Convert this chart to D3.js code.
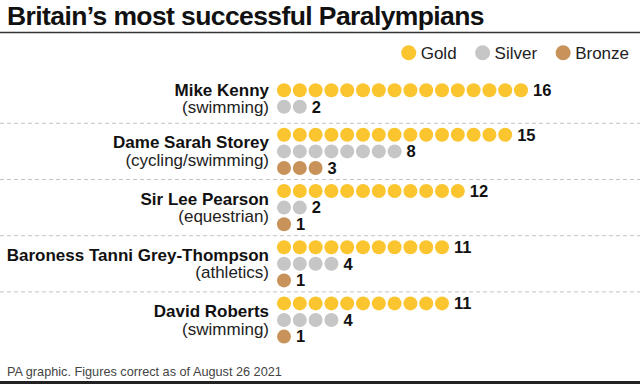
<!DOCTYPE html>
<html>
<head>
<meta charset="utf-8">
<script src="https://cdn.jsdelivr.net/npm/d3@7"></script>
<style>
  html, body { margin: 0; padding: 0; background: #fff; }
  svg { display: block; font-family: "Liberation Sans", Arial, sans-serif; }
</style>
</head>
<body>
<svg id="chart" width="640" height="384"></svg>
<script>
// ---- data ----
const athletes = ["Mike Kenny", "Dame Sarah Storey", "Sir Lee Pearson", "Baroness Tanni Grey-Thompson", "David Roberts"];
const sports = ["(swimming)", "(cycling/swimming)", "(equestrian)", "(athletics)", "(swimming)"];
const gold = [16, 15, 12, 11, 11];
const silver = [2, 8, 2, 4, 4];
const bronze = [0, 3, 1, 1, 1];
const medalTypes = ["Gold", "Silver", "Bronze"];
const title = "Britain’s most successful Paralympians";
const footer = "PA graphic. Figures correct as of August 26 2021";

// ---- styles ----
const colors = { Gold: "#fbc52f", Silver: "#c6c6c6", Bronze: "#c8925b" };
const W = 640, H = 384;
const svg = d3.select("#chart");

// title + rule
svg.append("text").attr("x", 7).attr("y", 25)
  .attr("font-size", 26.5).attr("font-weight", "bold").attr("letter-spacing", -0.6)
  .attr("fill", "#111").text(title);
svg.append("line").attr("x1", 0).attr("x2", W).attr("y1", 32.5).attr("y2", 32.5)
  .attr("stroke", "#333").attr("stroke-width", 1.5);

// legend (right aligned)
const legend = svg.append("g");
const legendItems = legend.selectAll("g").data(medalTypes).join("g");
legendItems.append("circle").attr("r", 7.5).attr("cy", 52.7).attr("fill", d => colors[d]);
legendItems.append("text").attr("y", 58.7).attr("font-size", 17).attr("fill", "#222").text(d => d);
{
  const widths = [];
  legendItems.select("text").each(function () { widths.push(this.getComputedTextLength()); });
  const gapDotText = 4.5, gapItem = 18.5, r = 7.5;
  const total = d3.sum(widths) + medalTypes.length * (2 * r + gapDotText) + (medalTypes.length - 1) * gapItem;
  let x = 629 - total;
  legendItems.each(function (d, i) {
    const g = d3.select(this);
    g.select("circle").attr("cx", x + r);
    g.select("text").attr("x", x + 2 * r + gapDotText);
    x += 2 * r + gapDotText + widths[i] + gapItem;
  });
}

// ---- layout scales ----
const rowStep = 16.6;
const y = d3.scaleBand().domain(athletes).range([67.1, 348.1]).paddingInner(0);
const x = d3.scaleLinear().domain([0, 16]).range([284, 284 + 16 * 15.8]);
const dotR = 7;

const rowsData = athletes.map((name, i) => {
  const rows = [["Gold", gold[i]], ["Silver", silver[i]], ["Bronze", bronze[i]]]
    .filter(r => r[1] > 0);
  return { name, sport: sports[i], rows };
});

// separators
svg.append("g").selectAll("line").data(athletes.slice(1)).join("line")
  .attr("x1", 0).attr("x2", W)
  .attr("y1", d => y(d)).attr("y2", d => y(d))
  .attr("stroke", "#c4c4c4").attr("stroke-width", 1).attr("stroke-dasharray", "4,3");

const groups = svg.append("g").selectAll("g").data(rowsData).join("g");

groups.each(function (d) {
  const g = d3.select(this);
  const n = d.rows.length;
  const center = y(d.name) + y.bandwidth() / 2 + (3 - n) * rowStep * 0.2;
  const rowY = k => center + (k - (n - 1) / 2) * rowStep;

  g.append("text").attr("x", 269).attr("y", center - 3)
    .attr("text-anchor", "end").attr("font-size", 17).attr("font-weight", "bold")
    .attr("fill", "#111").text(d.name);
  g.append("text").attr("x", 269).attr("y", center + 14.5)
    .attr("text-anchor", "end").attr("font-size", 17)
    .attr("fill", "#222").text(d.sport);

  d.rows.forEach(([type, count], k) => {
    const cy = rowY(k);
    g.append("g").selectAll("circle").data(d3.range(count)).join("circle")
      .attr("cx", j => x(j)).attr("cy", cy).attr("r", dotR)
      .attr("fill", colors[type]);
    g.append("text").attr("x", x(count - 1) + 12).attr("y", cy + 5.8)
      .attr("font-size", 16.5).attr("font-weight", "bold").attr("fill", "#111")
      .text(count);
  });
});

// footer
svg.append("text").attr("x", 7).attr("y", 375.5).attr("font-size", 12.7)
  .attr("fill", "#444").text(footer);
svg.append("rect").attr("x", 0).attr("y", 381).attr("width", W).attr("height", 3).attr("fill", "#222");
</script>
</body>
</html>
